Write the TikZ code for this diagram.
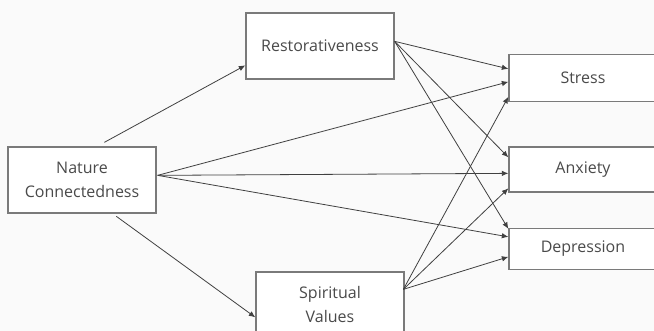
\documentclass[tikz,border=0pt]{standalone}
\usepackage{fontspec}
\setmainfont{Open Sans}
\usetikzlibrary{arrows.meta,calc}
\definecolor{boxline}{HTML}{7A7A7A}
\definecolor{arrline}{HTML}{404040}
\definecolor{txt}{HTML}{4A4A4A}
\begin{document}
\begin{tikzpicture}[x=1pt,y=-1pt,
  box/.style={draw=boxline,line width=1.3pt,fill=white,inner sep=0pt,align=center,
    text=txt,font=\fontsize{16}{24}\selectfont,minimum width=148pt},
  arr/.style={draw=arrline,line width=0.8pt,-{Latex[length=6.5pt,width=5.5pt]}}]
\clip (0,0) rectangle (654,331);
\fill[white!98!black] (0,0) rectangle (654,331);
\node[box,minimum height=66pt] (nc) at (82,180) {Nature\\Connectedness};
\node[box,minimum height=66pt] (rest) at (320,46) {Restorativeness};
\node[box,minimum height=66pt] (sv) at (330,305) {Spiritual\\Values};
\node[box,minimum height=47pt] (stress) at (583,78) {Stress};
\node[box,minimum height=45pt] (anx) at (583,169.5) {Anxiety};
\node[box,minimum height=41pt] (dep) at (583,249) {Depression};
% source points
\coordinate (rS) at ($(rest.north east)+(0,29)$);
\coordinate (nS) at ($(nc.north east)+(1,29)$);
\coordinate (sS) at ($(sv.north west)+(148,18)$);
\coordinate (nTop) at ($(nc.north west)+(97,-4)$);
\coordinate (nBot) at ($(nc.north west)+(109,70)$);
% targets
\coordinate (s1) at ($(stress.north west)+(0,15)$);
\coordinate (s2) at ($(stress.north west)+(0,28)$);
\coordinate (s3) at ($(stress.north west)+(0,43)$);
\coordinate (a1) at ($(anx.north west)+(0,11)$);
\coordinate (a2) at ($(anx.north west)+(0,27)$);
\coordinate (a3) at ($(anx.north west)+(0,42)$);
\coordinate (d1) at ($(dep.north west)+(0,1)$);
\coordinate (d2) at ($(dep.north west)+(0,9)$);
\coordinate (d3) at ($(dep.north west)+(0,29)$);
\coordinate (rT) at ($(rest.north west)+(0,53)$);
\coordinate (sT) at ($(sv.north west)+(0,46)$);
\draw[arr] (nTop) -- (rT);
\draw[arr] (nBot) -- (sT);
\draw[arr] (rS) -- (s1);
\draw[arr] (rS) -- (a1);
\draw[arr] (rS) -- (d1);
\draw[arr] (nS) -- (s2);
\draw[arr] (nS) -- (a2);
\draw[arr] (nS) -- (d2);
\draw[arr] (sS) -- (s3);
\draw[arr] (sS) -- (a3);
\draw[arr] (sS) -- (d3);
\end{tikzpicture}
\end{document}
